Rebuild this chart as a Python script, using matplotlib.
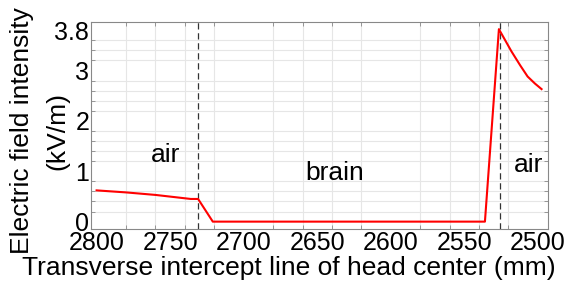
import matplotlib
matplotlib.use("Agg")
from matplotlib import pyplot as plt
from matplotlib.ticker import MultipleLocator

plt.rcParams['font.family'] = ['Liberation Sans', 'DejaVu Sans']

# transverse position (mm) and field intensity (kV/m)
position = [2800, 2780, 2760, 2745, 2736, 2731, 2721, 2536, 2526.5, 2518, 2512, 2507, 2502, 2497.5]
field = [0.62, 0.58, 0.53, 0.48, 0.45, 0.45, 0.0, 0.0, 3.82, 3.38, 3.10, 2.88, 2.74, 2.63]
boundaries = [2731.3, 2526]
regions = ["air", "brain", "air"]
region_x = [2753, 2638, 2506]
region_y = [1.33, 0.96, 1.12]
yticks = [0, 1, 2, 3, 3.8]
xticks = [2800, 2750, 2700, 2650, 2600, 2550, 2500]

fig = plt.figure(figsize=(5.66, 2.84), dpi=100)
ax = fig.add_axes([0.160, 0.193, 0.808, 0.731])

ax.plot(position, field, color='red', lw=1.5, zorder=3)
for b in boundaries:
    ax.axvline(b, color='#333333', lw=0.9, linestyle=(0, (5, 3)), zorder=2)
for t, xx, yy in zip(regions, region_x, region_y):
    ax.text(xx, yy, t, fontsize=19, ha='center', va='center')

ax.set_xlim(2804.1, 2493.2)
ax.set_ylim(-0.15, 3.97)
ax.set_xticks(xticks)
ax.set_yticks(yticks)
ax.set_yticklabels(['0', '1', '2', '3', '3.8'])
ax.xaxis.set_minor_locator(MultipleLocator(20))
ax.yaxis.set_minor_locator(MultipleLocator(0.2))
ax.grid(which='minor', color='#e6e6e6', lw=0.8)
ax.set_axisbelow(True)
ax.tick_params(which='both', direction='in', top=True, right=True, labelsize=18, pad=1)
ax.tick_params(which='major', length=0)
ax.tick_params(which='minor', length=3, color='#888888')
for s in ax.spines.values():
    s.set_color('#888888')

fig.text(289 / 566, 1 - 268 / 284, "Transverse intercept line of head center (mm)",
         fontsize=19, ha='center', va='center')
fig.text(22 / 566, 1 - 131 / 284, "Electric field intensity", fontsize=19,
         rotation=90, ha='center', va='center')
fig.text(57 / 566, 1 - 131 / 284, "(kV/m)", fontsize=19,
         rotation=90, ha='center', va='center')

fig.savefig("out.png", dpi=100)
